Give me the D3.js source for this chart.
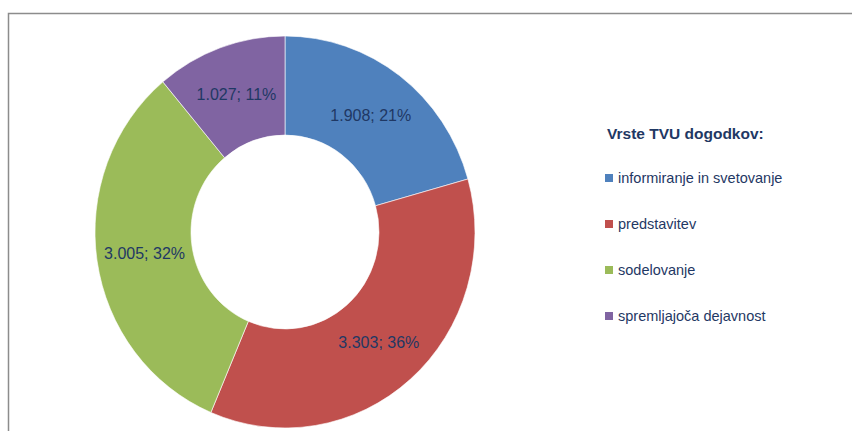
<!DOCTYPE html>
<html>
<head>
<meta charset="utf-8">
<script src="https://cdn.jsdelivr.net/npm/d3@7"></script>
<style>
html,body{margin:0;padding:0;background:#fff;}
svg{display:block;}
</style>
</head>
<body>
<svg id="chart" width="852" height="431"></svg>
<script>
const categories = ["informiranje in svetovanje", "predstavitev", "sodelovanje", "spremljajoča dejavnost"];
const values = [1908, 3303, 3005, 1027];
const valueLabels = ["1.908", "3.303", "3.005", "1.027"];
const percentLabels = ["21%", "36%", "32%", "11%"];
const colors = ["#4F81BD", "#C0504D", "#9BBB59", "#8064A2"];
const legendTitle = "Vrste TVU dogodkov:";

const svg = d3.select("#chart");

// frame
svg.append("rect")
  .attr("x", 8.5).attr("y", 13.5)
  .attr("width", 900).attr("height", 500)
  .attr("fill", "none").attr("stroke", "#8c8c8c").attr("stroke-width", 1.5);

const cx = 285, cy = 232, rOuter = 190, rInner = 94, yScale = 196 / 190;

const pie = d3.pie().sort(null).value(d => d);
const arcs = pie(values);
const arc = d3.arc().innerRadius(rInner).outerRadius(rOuter);
const labelArc = d3.arc().innerRadius((rInner + rOuter) / 2).outerRadius((rInner + rOuter) / 2);

const g = svg.append("g").attr("transform", `translate(${cx},${cy}) scale(1,${yScale})`);
g.selectAll("path").data(arcs).enter().append("path")
  .attr("d", arc)
  .attr("fill", (d, i) => colors[i])
  .attr("stroke", "#ffffff")
  .attr("stroke-width", 0.6);

svg.append("g").selectAll("text").data(arcs).enter().append("text")
  .attr("x", d => cx + labelArc.centroid(d)[0])
  .attr("y", d => cy + labelArc.centroid(d)[1] * yScale)
  .attr("dy", "0.36em")
  .attr("text-anchor", "middle")
  .attr("font-family", "'Liberation Sans', Arial, sans-serif")
  .attr("font-size", "16px")
  .attr("fill", "#1F3864")
  .text((d, i) => valueLabels[i] + "; " + percentLabels[i]);

// legend
const lg = svg.append("g");
lg.append("text")
  .attr("x", 607).attr("y", 133).attr("dy", "0.36em")
  .attr("font-family", "'Liberation Sans', Arial, sans-serif")
  .attr("font-size", "15.5px").attr("font-weight", "bold")
  .attr("fill", "#1F3864")
  .text(legendTitle);

const items = lg.selectAll("g.item").data(categories).enter().append("g")
  .attr("class", "item")
  .attr("transform", (d, i) => `translate(605,${178 + i * 46})`);
items.append("rect")
  .attr("x", 0).attr("y", -4).attr("width", 8).attr("height", 8)
  .attr("fill", (d, i) => colors[i]);
items.append("text")
  .attr("x", 13).attr("y", 0).attr("dy", "0.36em")
  .attr("font-family", "'Liberation Sans', Arial, sans-serif")
  .attr("font-size", "14.5px")
  .attr("fill", "#1F3864")
  .text(d => d);
</script>
</body>
</html>
